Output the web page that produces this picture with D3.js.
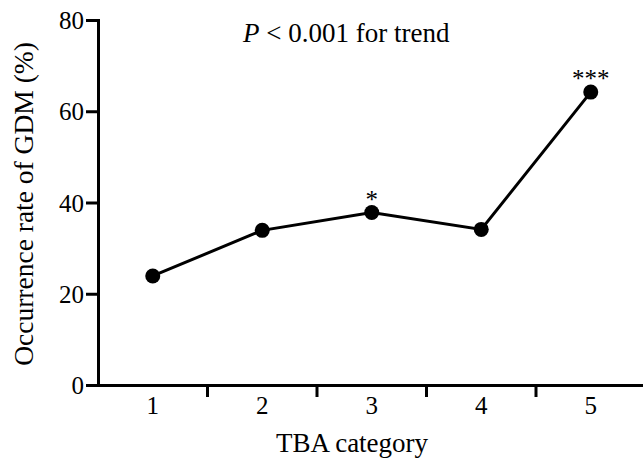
<!DOCTYPE html>
<html>
<head>
<meta charset="utf-8">
<script src="https://cdn.jsdelivr.net/npm/d3@7"></script>
<style>
  body { margin: 0; background: #fff; }
  svg text { font-family: "Liberation Serif", "Times New Roman", serif; fill: #000; }
</style>
</head>
<body>
<div id="chart"></div>
<script>
// chart data
var categories = ["1", "2", "3", "4", "5"];
var rates = [23.9, 33.9, 37.8, 34.1, 64.2];
var stars = ["", "", "*", "", "***"];
var yTicks = [0, 20, 40, 60, 80];

var width = 643;
var height = 458;

var svg = d3.select("#chart")
  .append("svg")
  .attr("width", width)
  .attr("height", height);

// scales
var x = d3.scaleBand()
  .domain(categories)
  .range([98, 645.5])
  .padding(0);

var y = d3.scaleLinear()
  .domain([0, 80])
  .range([385, 20]);

// y axis
var yAxis = d3.axisLeft(y).tickValues(yTicks).tickSize(12).tickPadding(2);
var gy = svg.append("g")
  .attr("transform", "translate(98,0)")
  .call(yAxis);
gy.select(".domain").attr("stroke-width", 3);
gy.selectAll(".tick line").attr("stroke-width", 3);
gy.selectAll(".tick text")
  .attr("font-size", 25)
  .attr("dy", "0.34em");

// x axis: labels centred in bands, ticks at band boundaries
var xAxis = d3.axisBottom(x).tickSize(0).tickPadding(11);
var gx = svg.append("g")
  .attr("transform", "translate(0,385)")
  .call(xAxis);
gx.select(".domain").attr("stroke-width", 3);
gx.selectAll(".tick text")
  .attr("font-size", 25);

gx.selectAll(".boundary")
  .data(categories.slice(1))
  .enter()
  .append("line")
  .attr("class", "boundary")
  .attr("x1", function(d) { return x(d); })
  .attr("x2", function(d) { return x(d); })
  .attr("y1", 0)
  .attr("y2", 12)
  .attr("stroke", "#000")
  .attr("stroke-width", 3);

// axis titles
svg.append("text")
  .attr("x", 352)
  .attr("y", 452)
  .attr("text-anchor", "middle")
  .attr("font-size", 27)
  .text("TBA category");

svg.append("text")
  .attr("transform", "translate(33,204)rotate(-90)")
  .attr("text-anchor", "middle")
  .attr("font-size", 27.5)
  .text("Occurrence rate of GDM (%)");

// trend annotation
var note = svg.append("text")
  .attr("x", 243)
  .attr("y", 42)
  .attr("font-size", 27);
note.append("tspan").attr("font-style", "italic").text("P");
note.append("tspan").text(" < 0.001 for trend");

// line and points
var line = d3.line()
  .x(function(d, i) { return x(categories[i]) + x.bandwidth() / 2; })
  .y(function(d) { return y(d); });

svg.append("path")
  .datum(rates)
  .attr("d", line)
  .attr("fill", "none")
  .attr("stroke", "#000")
  .attr("stroke-width", 3);

svg.selectAll(".dot")
  .data(rates)
  .enter()
  .append("circle")
  .attr("class", "dot")
  .attr("cx", function(d, i) { return x(categories[i]) + x.bandwidth() / 2; })
  .attr("cy", function(d) { return y(d); })
  .attr("r", 7.5)
  .attr("fill", "#000");

// significance stars
svg.selectAll(".star")
  .data(rates)
  .enter()
  .append("text")
  .attr("class", "star")
  .attr("x", function(d, i) { return x(categories[i]) + x.bandwidth() / 2; })
  .attr("y", function(d) { return y(d) - 5; })
  .attr("text-anchor", "middle")
  .attr("font-size", 25)
  .text(function(d, i) { return stars[i]; });
</script>
</body>
</html>
